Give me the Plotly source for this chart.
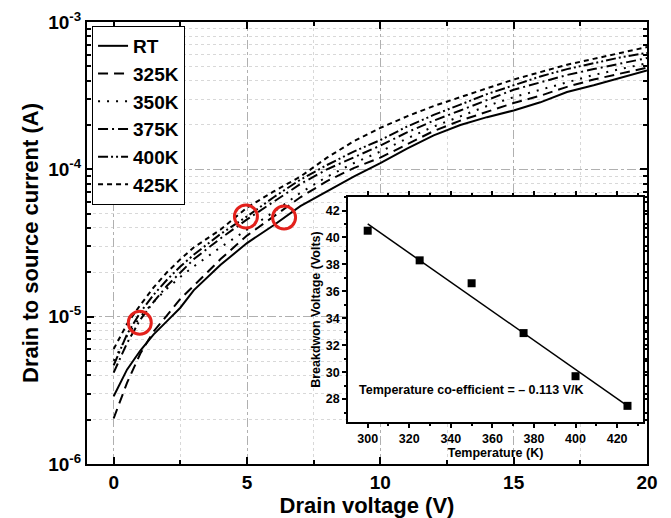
import plotly.graph_objects as go
import numpy as np

# drain voltage (V)
vds = [0, 0.5, 1, 1.5, 2, 2.5, 3, 4, 5, 6, 7, 8, 9, 10, 11, 12, 13, 14, 15, 16, 17, 18, 19, 20]

# drain to source current (A) for each temperature
ids_rt = [2.88e-6, 4.37e-6, 5.89e-6, 7.59e-6, 9.33e-6, 1.15e-5, 1.51e-5, 2.24e-5, 3.16e-5, 4.17e-5,
          5.62e-5, 7.08e-5, 8.91e-5, 1.10e-4, 1.38e-4, 1.70e-4, 2.00e-4, 2.26e-4, 2.51e-4, 2.85e-4,
          3.35e-4, 3.72e-4, 4.17e-4, 4.68e-4]
ids_325 = [2.04e-6, 3.55e-6, 5.62e-6, 7.94e-6, 1.02e-5, 1.32e-5, 1.62e-5, 2.45e-5, 3.55e-5, 4.79e-5,
           6.46e-5, 8.32e-5, 1.02e-4, 1.20e-4, 1.48e-4, 1.82e-4, 2.14e-4, 2.45e-4, 2.82e-4, 3.16e-4,
           3.63e-4, 4.07e-4, 4.47e-4, 4.90e-4]
ids_350 = [5.01e-6, 7.41e-6, 1.00e-5, 1.26e-5, 1.55e-5, 1.86e-5, 2.19e-5, 2.95e-5, 3.89e-5, 5.13e-5,
           6.92e-5, 8.91e-5, 1.10e-4, 1.32e-4, 1.62e-4, 1.95e-4, 2.29e-4, 2.69e-4, 3.09e-4, 3.47e-4,
           3.89e-4, 4.37e-4, 4.79e-4, 5.25e-4]
ids_375 = [4.17e-6, 6.61e-6, 9.55e-6, 1.26e-5, 1.62e-5, 2.00e-5, 2.45e-5, 3.39e-5, 4.57e-5, 6.03e-5,
           7.94e-5, 1.00e-4, 1.20e-4, 1.45e-4, 1.78e-4, 2.14e-4, 2.51e-4, 2.95e-4, 3.47e-4, 3.89e-4,
           4.37e-4, 4.79e-4, 5.25e-4, 5.69e-4]
ids_400 = [4.68e-6, 7.59e-6, 1.07e-5, 1.41e-5, 1.78e-5, 2.19e-5, 2.63e-5, 3.63e-5, 4.79e-5, 6.46e-5,
           8.51e-5, 1.07e-4, 1.32e-4, 1.58e-4, 1.95e-4, 2.34e-4, 2.75e-4, 3.24e-4, 3.72e-4, 4.27e-4,
           4.79e-4, 5.25e-4, 5.75e-4, 6.17e-4]
ids_425 = [6.03e-6, 8.91e-6, 1.20e-5, 1.58e-5, 2.00e-5, 2.45e-5, 2.95e-5, 3.89e-5, 5.50e-5, 7.08e-5,
           8.91e-5, 1.20e-4, 1.55e-4, 1.91e-4, 2.29e-4, 2.69e-4, 3.09e-4, 3.55e-4, 4.07e-4, 4.57e-4,
           5.13e-4, 5.62e-4, 6.17e-4, 6.76e-4]

labels = ['RT', '325K', '350K', '375K', '400K', '425K']
dashes = ['solid', '10px,6px', '2px,7px', '10px,4px,2px,4px', '10px,3px,2px,3px,2px,3px', '5px,4px']

# breakdown points marked with red circles
circle_v = [0.98, 4.96, 6.39]
circle_i = [9.1e-6, 4.78e-5, 4.71e-5]

# inset: breakdown voltage vs temperature
temp_k = [300, 325, 350, 375, 400, 425]
vbr = [40.5, 38.3, 36.6, 32.9, 29.7, 27.5]

FONT = 'Arial, Liberation Sans, sans-serif'

fig = go.Figure()

for lab, ids, dash in zip(labels, [ids_rt, ids_325, ids_350, ids_375, ids_400, ids_425], dashes):
    fig.add_trace(go.Scatter(
        x=vds, y=ids, name=lab, mode='lines',
        line=dict(color='black', width=2, dash=dash),
        xaxis='x', yaxis='y',
    ))

fig.add_trace(go.Scatter(
    x=circle_v, y=circle_i, mode='markers', showlegend=False,
    marker=dict(symbol='circle-open', size=23, color='#e3211c', line=dict(width=3, color='#e3211c')),
    xaxis='x', yaxis='y',
))

# linear fit for inset
slope, intercept = np.polyfit(temp_k, vbr, 1)
fit_x = [temp_k[0], temp_k[-1]]
fit_y = [slope * t + intercept for t in fit_x]

fig.add_trace(go.Scatter(
    x=fit_x, y=fit_y, mode='lines', showlegend=False,
    line=dict(color='black', width=1.5), xaxis='x2', yaxis='y2',
))
fig.add_trace(go.Scatter(
    x=temp_k, y=vbr, mode='markers', showlegend=False,
    marker=dict(symbol='square', size=8, color='black'), xaxis='x2', yaxis='y2',
))

fig.add_annotation(
    x=350, y=28.7, xref='x2', yref='y2', showarrow=False,
    text='Temperature co-efficient = \u2013 0.113 V/K',
    font=dict(family=FONT, size=12.5, color='black', weight='bold'),
)

major_grid = dict(showgrid=True, gridcolor='#b0b0b0', gridwidth=1, griddash='dashdot')
y_minor = [m * 10.0 ** e for e in (-6, -5, -4) for m in range(2, 10)]

fig.update_layout(
    width=671, height=518,
    margin=dict(l=87, r=24, t=22, b=54),
    paper_bgcolor='white', plot_bgcolor='white',
    font=dict(family=FONT, color='black'),
    xaxis=dict(
        domain=[0, 1], range=[-1, 20], anchor='y', automargin=False,
        tickmode='linear', tick0=0, dtick=5,
        ticks='inside', ticklen=7, tickwidth=2, tickcolor='black',
        showline=True, linecolor='black', linewidth=2, mirror='allticks',
        zeroline=False,
        tickfont=dict(size=19, weight='bold'),
        title=dict(text='Drain voltage (V)', font=dict(size=22, weight='bold'), standoff=0),
        minor=dict(dtick=2.5, tick0=0, ticks='inside', ticklen=4, tickcolor='black',
                   showgrid=True, gridcolor='#d8d8d8', griddash='dot'),
        **major_grid,
    ),
    yaxis=dict(
        domain=[0, 1], type='log', range=[-6, -3], anchor='x', automargin=False,
        tickmode='array', tickvals=[1e-6, 1e-5, 1e-4, 1e-3],
        ticktext=['10<sup>-6</sup>', '10<sup>-5</sup>', '10<sup>-4</sup>', '10<sup>-3</sup>'],
        ticks='inside', ticklen=7, tickwidth=2, tickcolor='black',
        showline=True, linecolor='black', linewidth=2, mirror='allticks',
        zeroline=False,
        tickfont=dict(size=19, weight='bold'),
        title=dict(text='Drain to source current (A)', font=dict(size=22, weight='bold'), standoff=4),
        minor=dict(tickmode='array', tickvals=y_minor, ticks='inside', ticklen=4, tickcolor='black',
                   showgrid=True, gridcolor='#d8d8d8', griddash='dot'),
        **major_grid,
    ),
    xaxis2=dict(
        domain=[0.466, 0.993], range=[290.5, 432.5], anchor='y2', automargin=False,
        tickmode='linear', tick0=300, dtick=20,
        ticks='outside', ticklen=4, tickwidth=1.5, tickcolor='black',
        showline=True, linecolor='black', linewidth=1.5, mirror='ticks',
        showgrid=False, zeroline=False,
        tickfont=dict(size=12.5, weight='bold'),
        title=dict(text='Temperature (K)', font=dict(size=12.5, weight='bold'), standoff=2),
        minor=dict(dtick=10, tick0=300, ticks='outside', ticklen=2, tickcolor='black'),
    ),
    yaxis2=dict(
        domain=[0.095, 0.604], range=[26.3, 43], anchor='x2', automargin=False,
        tickmode='linear', tick0=28, dtick=2,
        ticks='outside', ticklen=4, tickwidth=1.5, tickcolor='black',
        showline=True, linecolor='black', linewidth=1.5, mirror='ticks',
        showgrid=False, zeroline=False,
        tickfont=dict(size=12.5, weight='bold'),
        title=dict(text='Breakdwon Voltage (Volts)', font=dict(size=12.5, weight='bold'), standoff=2),
        minor=dict(dtick=1, tick0=28, ticks='outside', ticklen=2, tickcolor='black'),
    ),
    legend=dict(
        x=0.009, y=0.991, xanchor='left', yanchor='top',
        bgcolor='white', bordercolor='black', borderwidth=1,
        font=dict(size=19, weight='bold'),
        tracegroupgap=0,
    ),
    showlegend=True,
)

# page body has a default margin; drop it so the figure fills the window
fig.write_html('out.html', config={'displayModeBar': False},
               post_script="document.body.style.margin='0';")
